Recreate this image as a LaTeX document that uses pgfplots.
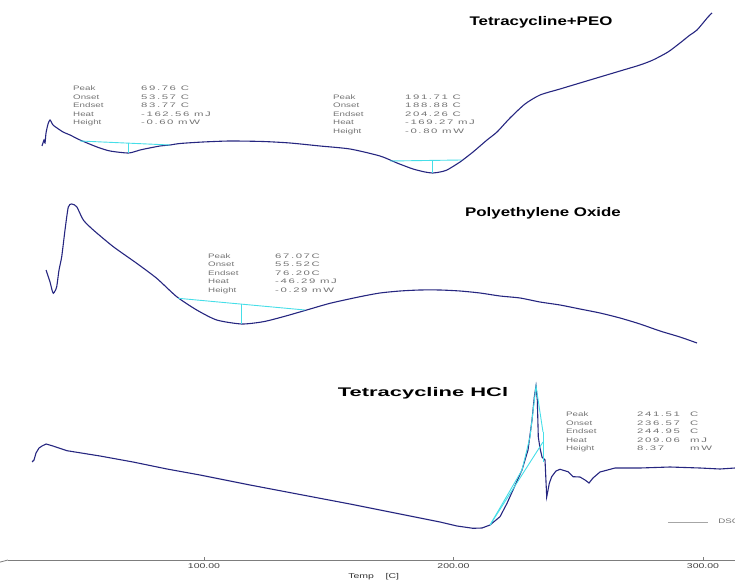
\documentclass[border=0pt]{standalone}
\usepackage{fontspec}
\setmainfont{Liberation Sans}
\newfontfamily\valfont[LetterSpace=14]{Liberation Sans}
\usepackage{graphicx}
\usepackage{pgfplots}
\pgfplotsset{compat=1.18}

\definecolor{trace}{RGB}{38,38,128}
\definecolor{base}{RGB}{70,222,232}
\definecolor{note}{RGB}{115,115,115}
\definecolor{axisgray}{RGB}{125,125,125}

% wide, light annotation text of the thermal analysis software
\newcommand{\ann}[1]{\scalebox{1.5}[1]{\fontsize{6.5}{7}\selectfont #1}}
\newcommand{\val}[1]{\scalebox{1.75}[1]{\fontsize{6.5}{7}\valfont #1}}
\newcommand{\ttl}[1]{\scalebox{1.35}[1]{\fontsize{12.5}{14}\selectfont\bfseries #1}}
\newcommand{\tkl}[1]{\scalebox{1.5}[1]{\fontsize{7}{8}\selectfont #1}}

\begin{document}
\begin{tikzpicture}
\path[use as bounding box] (-8pt,-21pt) rectangle (727pt,560pt);
\begin{axis}[
  scale only axis, width=727pt, height=560pt,
  at={(0,0)}, anchor=south west,
  xmin=21.44, xmax=312.83, ymin=21, ymax=581,
  axis x line*=bottom, axis y line=none,
  x axis line style={-, axisgray, line width=0.8pt},
  xtick={100,200,300},
  xticklabels={\tkl{100.00},\tkl{200.00},\tkl{300.00}},
  xticklabel style={text=black!75, inner sep=1pt, yshift=-2pt},
  tick align=inside, major tick length=3pt,
  tick style={axisgray, line width=0.8pt},
  xlabel={\tkl{Temp\hspace{1.1em}[C]}},
  xlabel style={at={(axis description cs:0.503,0)}, anchor=center, yshift=-17pt, text=black!80},
  clip=false,
  legend style={at={(rel axis cs:0.907,0.068)}, anchor=west, draw=none, fill=none,
    inner sep=0pt, font=\fontsize{6}{7}\selectfont, text=note},
  legend image code/.code={\draw[#1] (0pt,0pt) -- (40pt,0pt);},
]
\addlegendimage{line width=0.8pt, color=gray!70}
\addlegendentry{\hspace{8pt}\ann{DSC}}

% Tetracycline+PEO
\addplot[trace, line width=1.1pt, smooth, tension=0.4] coordinates {
(35.07,435) (35.88,441) (36.28,438) (36.68,448) (37.48,457) (38.28,461)
(39.48,456) (41.09,453) (43.49,449) (46.30,446) (50.30,441) (57.12,434)
(62.33,430) (69.76,428) (74.35,431) (77.16,432.5) (82.37,435) (86.38,436)
(90.38,437.5) (99.60,439) (110.42,440) (123.65,439.5) (134.47,438) (146.50,435)
(158.52,432) (170.54,425) (177.36,418) (183.77,412) (188.58,409) (191.71,408)
(194.59,409) (197.40,411) (202.61,419) (207.82,429) (213.43,441) (217.44,449)
(222.65,463) (228.66,477) (234.67,486) (242.69,492) (250.70,498) (258.72,504)
(266.74,510) (274.75,516) (279.96,521) (285.97,529) (290.78,538) (294.79,546)
(297.60,551) (302.01,564) (303.61,568)};
\addplot[base, line width=0.9pt] coordinates {(50.30,440) (86.38,436)};
\addplot[base, line width=0.9pt] coordinates {(69.76,437.8) (69.76,428)};
\addplot[base, line width=0.9pt] coordinates {(174.55,420) (203.29,421)};
\addplot[base, line width=0.9pt] coordinates {(191.71,420.6) (191.71,408)};

% Polyethylene Oxide
\addplot[trace, line width=1.1pt, smooth, tension=0.4] coordinates {
(36.68,311) (37.48,305) (38.28,299) (39.08,291) (39.60,287.7) (40.28,290)
(40.97,294.3) (41.89,311) (42.97,324.3) (44.29,351) (45.61,374) (46.98,377)
(48.98,374.3) (51.63,361) (55.63,351) (63.65,334.3) (73.03,317.7) (81.04,302.7)
(89.06,284.3) (97.08,271) (105.09,261) (115.11,257) (123.77,259.3) (131.79,264.3)
(141.17,271) (150.50,277.7) (162.53,284.3) (170.54,288) (178.56,290) (186.58,291)
(194.59,291) (202.61,290) (210.62,288) (218.64,285) (226.66,283) (234.67,279)
(242.69,276) (250.70,272) (258.72,268) (266.74,263) (274.75,257) (282.77,250)
(290.78,244) (297.60,238)};
\addplot[base, line width=0.9pt] coordinates {(89.70,282.7) (140.48,271)};
\addplot[base, line width=0.9pt] coordinates {(115.11,276.9) (115.11,257)};

% Tetracycline HCl
\addplot[trace, line width=1.1pt] coordinates {
(31.07,119) (31.87,121) (32.67,128) (33.87,133) (35.07,135) (36.68,137)
(39.48,135) (45.09,130.3) (58.32,125) (71.55,119) (85.17,112) (98.40,106)
(118.44,96) (138.48,86.5) (158.52,77) (178.56,67) (194.59,59) (201.41,55)
(207.82,52.7) (211.43,53) (214.63,56) (218.64,64.3) (221.45,77.7) (223.85,91)
(227.46,111) (229.86,131) (231.47,161) (232.39,184) (233.07,195) (233.59,181)
(233.99,144) (234.67,133) (235.47,124) (236.68,121) (237.36,84) (238.40,97.7)
(239.36,104.3) (241.08,110) (242.69,111.7) (245.89,109.3) (247.90,104.3)
(250.70,104) (252.71,101) (254.31,98) (255.91,103) (258.72,109) (264.73,113)
(274.75,113) (286.78,114) (298.80,113) (306.82,112) (312.83,113)};
\addplot[base, line width=0.9pt] coordinates {(214.63,56) (227.46,111) (230.66,144) (233.07,195) (235.87,149)};
\addplot[base, line width=0.9pt] coordinates {(214.63,56) (235.87,139)};
\addplot[base, line width=0.9pt] coordinates {(235.87,149) (235.87,119)};

% left end of the base line
\draw[axisgray, line width=0.8pt] (rel axis cs:0,0) -- ++(0,7pt);

% curve titles
\node[anchor=center] at (axis cs:235.08,559) {\ttl{Tetracycline+PEO}};
\node[anchor=center] at (axis cs:235.88,368) {\ttl{Polyethylene Oxide}};
\node[anchor=center] at (axis cs:187.78,188) {\scalebox{1.3}[1]{\ttl{Tetracycline HCl}}};

% peak evaluation, Tetracycline+PEO (first peak)
\node[anchor=mid west, inner sep=0pt, text=note] at (axis cs:47.50,493) {\ann{Peak}};
\node[anchor=mid west, inner sep=0pt, text=note] at (axis cs:47.50,484.5) {\ann{Onset}};
\node[anchor=mid west, inner sep=0pt, text=note] at (axis cs:47.50,476) {\ann{Endset}};
\node[anchor=mid west, inner sep=0pt, text=note] at (axis cs:47.50,467.5) {\ann{Heat}};
\node[anchor=mid west, inner sep=0pt, text=note] at (axis cs:47.50,459) {\ann{Height}};
\node[anchor=mid west, inner sep=0pt, text=note] at (axis cs:74.75,493) {\val{69.76 C}};
\node[anchor=mid west, inner sep=0pt, text=note] at (axis cs:74.75,484.5) {\val{53.57 C}};
\node[anchor=mid west, inner sep=0pt, text=note] at (axis cs:74.75,476) {\val{83.77 C}};
\node[anchor=mid west, inner sep=0pt, text=note] at (axis cs:74.75,467.5) {\val{-162.56 mJ}};
\node[anchor=mid west, inner sep=0pt, text=note] at (axis cs:74.75,459) {\val{-0.60 mW}};

% peak evaluation, Tetracycline+PEO (second peak)
\node[anchor=mid west, inner sep=0pt, text=note] at (axis cs:151.71,484.5) {\ann{Peak}};
\node[anchor=mid west, inner sep=0pt, text=note] at (axis cs:151.71,476) {\ann{Onset}};
\node[anchor=mid west, inner sep=0pt, text=note] at (axis cs:151.71,467.5) {\ann{Endset}};
\node[anchor=mid west, inner sep=0pt, text=note] at (axis cs:151.71,459) {\ann{Heat}};
\node[anchor=mid west, inner sep=0pt, text=note] at (axis cs:151.71,450.5) {\ann{Height}};
\node[anchor=mid west, inner sep=0pt, text=note] at (axis cs:180.56,484.5) {\val{191.71 C}};
\node[anchor=mid west, inner sep=0pt, text=note] at (axis cs:180.56,476) {\val{188.88 C}};
\node[anchor=mid west, inner sep=0pt, text=note] at (axis cs:180.56,467.5) {\val{204.26 C}};
\node[anchor=mid west, inner sep=0pt, text=note] at (axis cs:180.56,459) {\val{-169.27 mJ}};
\node[anchor=mid west, inner sep=0pt, text=note] at (axis cs:180.56,450.5) {\val{-0.80 mW}};

% peak evaluation, Polyethylene Oxide
\node[anchor=mid west, inner sep=0pt, text=note] at (axis cs:101.61,325.5) {\ann{Peak}};
\node[anchor=mid west, inner sep=0pt, text=note] at (axis cs:101.61,317) {\ann{Onset}};
\node[anchor=mid west, inner sep=0pt, text=note] at (axis cs:101.61,308.5) {\ann{Endset}};
\node[anchor=mid west, inner sep=0pt, text=note] at (axis cs:101.61,300) {\ann{Heat}};
\node[anchor=mid west, inner sep=0pt, text=note] at (axis cs:101.61,291.5) {\ann{Height}};
\node[anchor=mid west, inner sep=0pt, text=note] at (axis cs:128.46,325.5) {\val{67.07C}};
\node[anchor=mid west, inner sep=0pt, text=note] at (axis cs:128.46,317) {\val{55.52C}};
\node[anchor=mid west, inner sep=0pt, text=note] at (axis cs:128.46,308.5) {\val{76.20C}};
\node[anchor=mid west, inner sep=0pt, text=note] at (axis cs:128.46,300) {\val{-46.29 mJ}};
\node[anchor=mid west, inner sep=0pt, text=note] at (axis cs:128.46,291.5) {\val{-0.29 mW}};

% peak evaluation, Tetracycline HCl
\node[anchor=mid west, inner sep=0pt, text=note] at (axis cs:245.09,167) {\ann{Peak}};
\node[anchor=mid west, inner sep=0pt, text=note] at (axis cs:245.09,158.5) {\ann{Onset}};
\node[anchor=mid west, inner sep=0pt, text=note] at (axis cs:245.09,150) {\ann{Endset}};
\node[anchor=mid west, inner sep=0pt, text=note] at (axis cs:245.09,141.5) {\ann{Heat}};
\node[anchor=mid west, inner sep=0pt, text=note] at (axis cs:245.09,133) {\ann{Height}};
\node[anchor=mid west, inner sep=0pt, text=note] at (axis cs:273.55,167) {\val{241.51}};
\node[anchor=mid west, inner sep=0pt, text=note] at (axis cs:273.55,158.5) {\val{236.57}};
\node[anchor=mid west, inner sep=0pt, text=note] at (axis cs:273.55,150) {\val{244.95}};
\node[anchor=mid west, inner sep=0pt, text=note] at (axis cs:273.55,141.5) {\val{209.06}};
\node[anchor=mid west, inner sep=0pt, text=note] at (axis cs:273.55,133) {\val{8.37}};
\node[anchor=mid west, inner sep=0pt, text=note] at (axis cs:294.79,167) {\val{C}};
\node[anchor=mid west, inner sep=0pt, text=note] at (axis cs:294.79,158.5) {\val{C}};
\node[anchor=mid west, inner sep=0pt, text=note] at (axis cs:294.79,150) {\val{C}};
\node[anchor=mid west, inner sep=0pt, text=note] at (axis cs:294.79,141.5) {\val{mJ}};
\node[anchor=mid west, inner sep=0pt, text=note] at (axis cs:294.79,133) {\val{mW}};
\end{axis}
\end{tikzpicture}
\end{document}
